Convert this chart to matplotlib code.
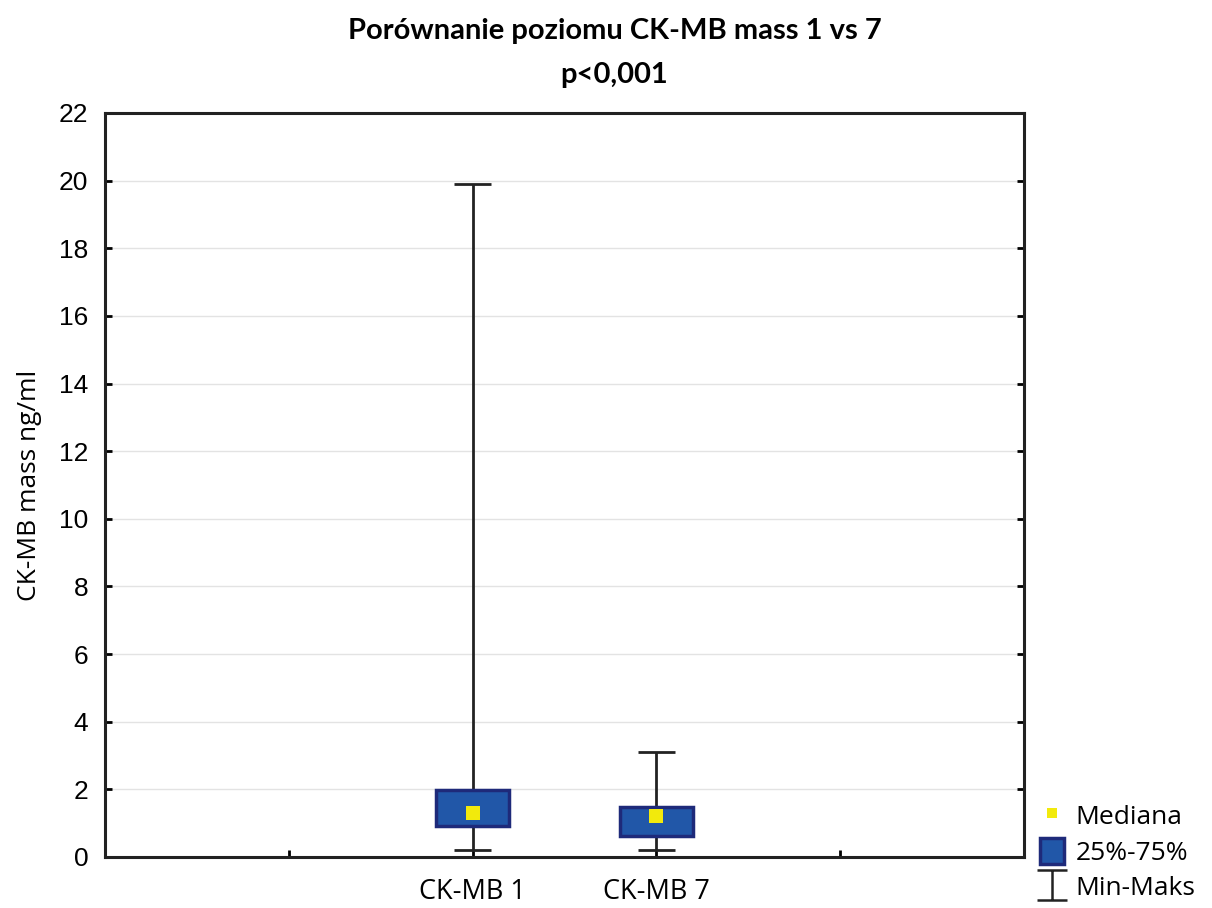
import numpy as np
import matplotlib
matplotlib.use("Agg")
import matplotlib.pyplot as plt
from matplotlib.lines import Line2D
from matplotlib.patches import Patch
from matplotlib.path import Path

# ── Data ──────────────────────────────────────────────────────────────────────
categories = ["CK-MB 1", "CK-MB 7"]
positions  = [2, 3]
q_min      = [0.2, 0.2]
q25        = [0.92, 0.62]
median     = [1.3, 1.21]
q75        = [1.98, 1.48]
q_max      = [19.9, 3.1]

TITLE  = "Porównanie poziomu CK-MB mass 1 vs 7\np<0,001"
YLABEL = "CK-MB mass ng/ml"

BOX_FACE = "#2157a8"
BOX_EDGE = "#1e2a7a"
MED_COL  = "#f2ea0c"
LINE_COL = "#222222"

# ── Figure ────────────────────────────────────────────────────────────────────
fig = plt.figure(figsize=(12.12, 9.08), dpi=100)
ax = fig.add_axes([0.0866, 0.0562, 0.7583, 0.8194])

for ys in np.arange(2, 22, 2):
    ax.axhline(ys, color="#e3e3e3", lw=1, zorder=0)

# whiskers
ax.vlines(positions, q_min, q_max, color=LINE_COL, lw=2, zorder=2)
ax.hlines(q_min, np.array(positions) - 0.1, np.array(positions) + 0.1, color=LINE_COL, lw=2, zorder=2)
ax.hlines(q_max, np.array(positions) - 0.1, np.array(positions) + 0.1, color=LINE_COL, lw=2, zorder=2)

# boxes
ax.bar(positions, np.array(q75) - np.array(q25), bottom=q25, width=0.4,
       color=BOX_FACE, edgecolor=BOX_EDGE, linewidth=2.5, zorder=3)

# medians
ax.scatter(positions, median, marker="s", s=110, color=MED_COL, zorder=4, linewidths=0)

ax.set_xlim(0, 5)
ax.set_ylim(0, 22)
ax.set_yticks(np.arange(0, 23, 2))
ax.set_xticks([1, 2, 3, 4])
ax.set_xticklabels(["", categories[0], categories[1], ""], fontfamily="Open Sans", fontsize=19.5)
ax.tick_params(axis="y", direction="in", length=5, width=2, right=True, labelsize=19, pad=12)
ax.tick_params(axis="x", direction="in", length=5, width=2, pad=15)
for lbl in ax.get_yticklabels():
    lbl.set_fontfamily("Liberation Sans")
for sp in ax.spines.values():
    sp.set_linewidth(2.2)
    sp.set_color(LINE_COL)

ax.set_ylabel(YLABEL, fontfamily="Open Sans", fontsize=19, labelpad=12)
fig.text(0.507, 0.98, TITLE, ha="center", va="top", fontfamily="Lato",
         fontweight="bold", fontsize=21, linespacing=1.85)

# legend
ibeam = Path([(-1, 1), (1, 1), (0, 1), (0, -1), (-1, -1), (1, -1)],
             [Path.MOVETO, Path.LINETO, Path.MOVETO, Path.LINETO, Path.MOVETO, Path.LINETO])
handles = [
    Line2D([], [], marker="s", color=MED_COL, ls="", markersize=7, markeredgewidth=0),
    Patch(facecolor=BOX_FACE, edgecolor=BOX_EDGE, linewidth=2.5),
    Line2D([], [], marker=ibeam, color=LINE_COL, ls="", markersize=22, markeredgewidth=1.8,
           markerfacecolor="none"),
]
leg = fig.legend(handles, ["Mediana", "25%-75%", "Min-Maks"], loc="upper left",
                 bbox_to_anchor=(0.858, 0.116), frameon=False,
                 prop={"family": "Open Sans", "size": 19}, handlelength=0.9,
                 handleheight=1.1, handletextpad=0.45, labelspacing=0.3,
                 borderaxespad=0, borderpad=0)

fig.savefig("out.png", dpi=100)
